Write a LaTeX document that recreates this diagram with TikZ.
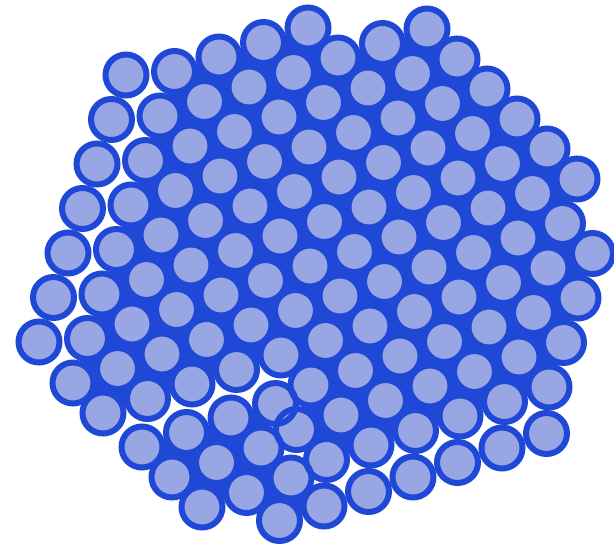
\documentclass[tikz,border=0pt]{standalone}
\usepackage{tikz}
\definecolor{ringblue}{RGB}{32,72,214}
\definecolor{diskfill}{RGB}{152,166,228}
\tikzset{
  diskfill/.style={fill=diskfill},
  diskring/.style={draw=ringblue,line width=6pt},
  gapfill/.style={fill=ringblue}
}
\def\disklist{
  0/0/3/0/0, 1/-2/4/0/0, 2/-2/5/0/0, 3/-2/6/0/0, 4/-2/7/0/0,
  5/-2/8/0/0, 6/-2/9/0/0, 7/-1/10/0/0, 8/-1/10/0/0, 9/0/6/0/0,
  10/1/7/0/0, 11/2/7/0/0,
  9/7/10/9/4, 10/8/10/9/4, 11/8/10/9/4, 12/3/9/12/2,
  0/4/4/-4/-11, 1/5/5/-4/-11, 2/6/6/-4/-11, 3/7/7/-4/-11,
  4/8/8/-4/-11, 5/9/9/-4/-11, 6/10/10/-4/-11}
\begin{document}
\begin{tikzpicture}[x=1pt,y=-1pt]
\useasboundingbox (0,0) rectangle (614,551);
% blue interstices between touching neighbours
\foreach \ma/\alo/\ahi/\mb/\blo/\bhi/\xa/\ya/\xb/\yb in {
  0/0/3/1/0/4/0/0/0/0, 1/-2/4/2/-2/5/0/0/0/0, 2/-2/5/3/-2/6/0/0/0/0,
  3/-2/6/4/-2/7/0/0/0/0, 4/-2/7/5/-2/8/0/0/0/0, 5/-2/8/6/-2/9/0/0/0/0,
  6/-2/9/7/-1/10/0/0/0/0, 7/-1/10/8/-1/10/0/0/0/0, 8/-1/6/9/0/6/0/0/0/0,
  9/0/6/10/1/7/0/0/0/0, 10/1/7/11/2/7/0/0/0/0,
  9/7/10/10/8/10/9/4/9/4, 10/8/10/11/8/10/9/4/9/4, 11/8/9/12/8/9/9/4/12/2}{
  \fill[gapfill]
    ({308+30*\ma-44.5*\alo+\xa},{28+30*\ma+14.5*\alo+\ya}) --
    ({308+30*\ma-44.5*\ahi+\xa},{28+30*\ma+14.5*\ahi+\ya}) --
    ({308+30*\mb-44.5*\bhi+\xb},{28+30*\mb+14.5*\bhi+\yb}) --
    ({308+30*\mb-44.5*\blo+\xb},{28+30*\mb+14.5*\blo+\yb}) -- cycle;
}
% disc fills
\foreach \m/\lo/\hi/\dx/\dy in \disklist{
  \foreach \n in {\lo,...,\hi}{
    \fill[diskfill] ({308+30*\m-44.5*\n+\dx},{28+30*\m+14.5*\n+\dy}) circle[radius=20.5pt];
  }
}
% disc rims
\foreach \m/\lo/\hi/\dx/\dy in \disklist{
  \foreach \n in {\lo,...,\hi}{
    \draw[diskring] ({308+30*\m-44.5*\n+\dx},{28+30*\m+14.5*\n+\dy}) circle[radius=20.5pt];
  }
}
\end{tikzpicture}
\end{document}
